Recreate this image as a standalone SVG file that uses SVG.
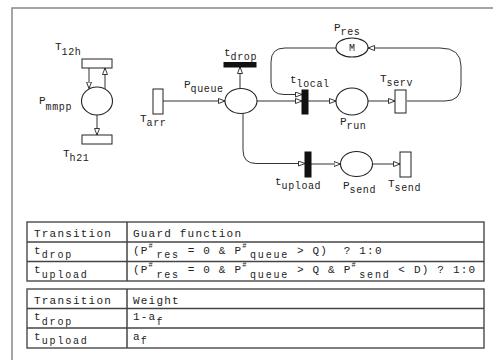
<svg xmlns="http://www.w3.org/2000/svg" width="493" height="360" viewBox="0 0 493 360">
<style>
text{font-family:"Liberation Mono","Courier New",monospace;fill:#222}
.lb{font-size:11px}
.ls{font-size:10px;letter-spacing:0.6px}
.tb{font-size:11px;letter-spacing:1.2px}
.ts{font-size:10px;letter-spacing:1.8px}
.tp{font-size:7px;letter-spacing:3.6px}
.pl{fill:#fff;stroke:#222;stroke-width:1.1}
.tr{fill:#fff;stroke:#222;stroke-width:1}
.tk{fill:#111;stroke:#111;stroke-width:1}
.cn path{fill:none;stroke:#333;stroke-width:1;marker-end:url(#ah)}
.tab{fill:#fff;stroke:#555;stroke-width:1.5}
.tl{stroke:#444;stroke-width:1.5}
</style>
<defs>
<marker id="ah" markerWidth="8" markerHeight="7" refX="7" refY="3" orient="auto" markerUnits="userSpaceOnUse">
<path d="M0.5,0.5 L7,3 L0.5,5.5 z" fill="#fff" stroke="#222" stroke-width="0.9"/>
</marker>
</defs>
<rect width="493" height="360" fill="#fff"/>
<path d="M12,370 L12,8 L500,8" fill="none" stroke="#888" stroke-width="1.5"/>

<g class="cn" id="connectors">
<path d="M89,68 L89,88.5"/>
<path d="M105,89 L105,68"/>
<path d="M97,115 L97,135"/>
<path d="M163,101 L225,101"/>
<path d="M240,88.5 L240,67"/>
<path d="M257,101 L302,101"/>
<path d="M336,48 L285,48 Q271,48 271,62 L271,82 Q271,94.5 284,94.5 L302,94.5"/>
<path d="M308,101 L336,101"/>
<path d="M368,101 L395,101"/>
<path d="M407,101 L445,101 Q461,101 461,85 L461,66 Q461,48 440,48 L368,48"/>
<path d="M243,113.4 L243,150 Q243,163.5 256,163.5 L305,163.5"/>
<path d="M311,164 L340.5,164"/>
<path d="M372.5,164 L400,164"/>
</g>

<g id="T12h"><rect class="tr" x="82" y="59" width="30" height="9"/><text class="lb" x="55" y="50">T<tspan class="ls" dy="5">12h</tspan></text></g>
<g id="Pmmpp"><ellipse class="pl" cx="97" cy="101" rx="15.5" ry="14"/><text class="lb" x="39" y="104">P<tspan class="ls" dy="6">mmpp</tspan></text></g>
<g id="Th21"><rect class="tr" x="82" y="135" width="30" height="9"/><text class="lb" x="63" y="157">T<tspan class="ls" dy="3.5">h21</tspan></text></g>
<g id="Tarr"><rect class="tr" x="153" y="89" width="10" height="25"/><text class="lb" x="140" y="122">T<tspan class="ls" dy="3.5">arr</tspan></text></g>
<g id="Pqueue"><ellipse class="pl" cx="241" cy="101" rx="16" ry="12.5"/><text class="lb" x="184" y="88">P<tspan class="ls" dy="4">queue</tspan></text></g>
<g id="tdrop"><rect class="tk" x="224" y="62.5" width="32" height="4.5"/><text class="lb" x="224" y="56">t<tspan class="ls" dy="4">drop</tspan></text></g>
<g id="tlocal"><rect class="tk" x="302" y="90" width="6" height="24"/><text class="lb" x="290" y="83">t<tspan class="ls" dy="4">local</tspan></text></g>
<g id="Prun"><ellipse class="pl" cx="352" cy="101.5" rx="16" ry="13.5"/><text class="lb" x="340" y="125">P<tspan class="ls" dy="4">run</tspan></text></g>
<g id="Tserv"><rect class="tr" x="395" y="90" width="11" height="23"/><text class="lb" x="380" y="82">T<tspan class="ls" dy="4">serv</tspan></text></g>
<g id="Pres"><ellipse class="pl" cx="352" cy="47.5" rx="16" ry="9.5"/><text class="lb" x="352" y="51" text-anchor="middle" style="font-size:10px">M</text><text class="lb" x="334" y="31">P<tspan class="ls" dy="3.5">res</tspan></text></g>
<g id="tupload"><rect class="tk" x="305" y="152" width="6" height="25"/><text class="lb" x="275" y="185">t<tspan class="ls" dy="4">upload</tspan></text></g>
<g id="Psend"><ellipse class="pl" cx="356.5" cy="164" rx="16" ry="12.5"/><text class="lb" x="343" y="189">P<tspan class="ls" dy="4">send</tspan></text></g>
<g id="Tsend"><rect class="tr" x="400" y="152" width="11" height="25"/><text class="lb" x="388" y="187">T<tspan class="ls" dy="4">send</tspan></text></g>

<g id="guard-table">
<rect class="tab" x="27" y="222" width="457" height="59"/>
<line class="tl" x1="27" y1="242" x2="484" y2="242"/>
<line class="tl" x1="27" y1="261.5" x2="484" y2="261.5"/>
<line class="tl" x1="127" y1="222" x2="127" y2="281"/>
<text class="tb" x="34" y="236.5">Transition</text>
<text class="tb" x="133" y="236.5">Guard function</text>
<text class="tb" x="34" y="253.5">t<tspan class="ts" dy="4.5">drop</tspan></text>
<text class="tb" x="34" y="273">t<tspan class="ts" dy="4.5">upload</tspan></text>
<text class="tb" x="133" y="253.5" xml:space="preserve">(P<tspan class="tp" dy="-6">#</tspan><tspan class="ts" dy="10.5">res</tspan><tspan dy="-4.5"> = 0 &amp; P</tspan><tspan class="tp" dy="-6">#</tspan><tspan class="ts" dy="10.5">queue</tspan><tspan dy="-4.5"> &gt; Q)  ? 1:0</tspan></text>
<text class="tb" x="133" y="273" xml:space="preserve">(P<tspan class="tp" dy="-6">#</tspan><tspan class="ts" dy="10.5">res</tspan><tspan dy="-4.5"> = 0 &amp; P</tspan><tspan class="tp" dy="-6">#</tspan><tspan class="ts" dy="10.5">queue</tspan><tspan dy="-4.5"> &gt; Q &amp; P</tspan><tspan class="tp" dy="-6">#</tspan><tspan class="ts" dy="10.5">send</tspan><tspan dy="-4.5"> &lt; D) ? 1:0</tspan></text>
</g>

<g id="weight-table">
<rect class="tab" x="27" y="289" width="457" height="59"/>
<line class="tl" x1="27" y1="308.5" x2="484" y2="308.5"/>
<line class="tl" x1="27" y1="328" x2="484" y2="328"/>
<line class="tl" x1="127" y1="289" x2="127" y2="348"/>
<text class="tb" x="34" y="303.5">Transition</text>
<text class="tb" x="133" y="303.5">Weight</text>
<text class="tb" x="34" y="320">t<tspan class="ts" dy="4.5">drop</tspan></text>
<text class="tb" x="34" y="339.5">t<tspan class="ts" dy="4.5">upload</tspan></text>
<text class="tb" x="133" y="320">1-a<tspan class="ts" dy="4.5">f</tspan></text>
<text class="tb" x="133" y="339.5">a<tspan class="ts" dy="4.5">f</tspan></text>
</g>
</svg>
